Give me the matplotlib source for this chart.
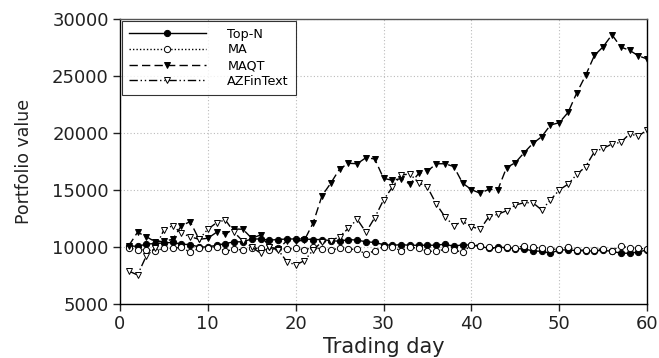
import matplotlib
matplotlib.use("Agg")
import matplotlib.pyplot as plt
import numpy as np

plt.rcParams['font.family'] = ['DejaVu Sans']

days = list(range(1, 61))

top_n = [10100, 10050, 10250, 10300, 10350, 10400, 10250, 10200, 10000, 10000,
         10150, 10300, 10450, 10450, 10700, 10700, 10600, 10650, 10700, 10700,
         10700, 10650, 10650, 10550, 10500, 10650, 10600, 10450, 10400, 10200,
         10150, 10200, 10150, 10150, 10150, 10150, 10250, 10050, 10200, 10150,
         10050, 9880, 9970, 9950, 9850, 9830, 9650, 9620, 9450, 9740,
         9740, 9680, 9650, 9650, 9700, 9620, 9450, 9450, 9560, 9740]

ma = [9940, 9740, 9740, 9650, 9880, 9880, 9970, 9530, 9880, 9940,
      10030, 9620, 9800, 9740, 9880, 9880, 9740, 9880, 9800, 9880,
      9740, 9970, 9800, 9740, 9880, 9800, 9800, 9350, 9680, 10030,
      9970, 9680, 9970, 9880, 9620, 9620, 9800, 9740, 9530, 10180,
      10120, 9970, 9800, 10000, 9880, 10120, 9970, 9880, 9800, 9800,
      9970, 9740, 9740, 9740, 9850, 9680, 10120, 9880, 9880, 9800]

maqt = [10100, 11290, 10900, 10460, 10500, 10670, 11870, 12220, 10670, 10760,
        11290, 11140, 11580, 11550, 10760, 11050, 10030, 9800, 10550, 10500,
        10600, 12130, 14500, 15600, 16840, 17340, 17300, 17830, 17720, 16020,
        15850, 16000, 15500, 16450, 16650, 17300, 17300, 17050, 15600, 15030,
        14710, 15060, 15000, 16960, 17390, 18270, 19090, 19670, 20700, 20900,
        21800, 23530, 25050, 26800, 27570, 28620, 27540, 27250, 26770, 26490]

azfintext = [7890, 7540, 9210, 9880, 11490, 11870, 11200, 10900, 10670, 11550,
             12130, 12370, 11290, 10500, 10000, 9450, 10030, 9740, 8710, 8420,
             8800, 9740, 10460, 10550, 10900, 11640, 12430, 11290, 12570, 14120,
             15240, 16310, 16400, 15640, 15240, 13770, 12630, 11870, 12250, 11780,
             11550, 12660, 12860, 13180, 13680, 13880, 13880, 13240, 14120, 15000,
             15510, 16370, 17040, 18360, 18650, 19030, 19180, 19910, 19730, 20260]

series = [
    ("Top-N", top_n, '-', 'o', 'black'),
    ("MA", ma, (0, (1, 1.5)), 'o', 'white'),
    ("MAQT", maqt, (0, (6, 3)), 'v', 'black'),
    ("AZFinText", azfintext, (0, (6, 2, 1, 2, 1, 2)), 'v', 'white'),
]

fig = plt.figure(figsize=(6.59, 3.58), dpi=100)
ax = fig.add_axes([0.182, 0.151, 0.800, 0.796])

for name, vals, ls, mk, fc in series:
    ax.plot(days, vals, linestyle=ls, color='black', linewidth=1.0,
            marker=mk, markersize=4.5, markerfacecolor=fc,
            markeredgecolor='black', markeredgewidth=0.7, label=name)

ax.set_xlim(0, 60)
ax.set_ylim(5000, 30000)
ax.set_xticks(range(0, 61, 10))
ax.set_yticks(range(5000, 30001, 5000))
ax.grid(True, color='#bbbbbb', linestyle=(0, (1, 2)), linewidth=0.8)
ax.tick_params(direction='out', length=5, width=1, labelsize=13, pad=3,
               colors='#222222')
for s in ax.spines.values():
    s.set_linewidth(1.0)
ax.spines['top'].set_color('#555555')

ax.set_xlabel("Trading day", fontsize=15, labelpad=3, color='#222222')
ax.set_ylabel("Portfolio value", fontsize=12.5, labelpad=14, color='#222222')

leg = ax.legend(loc='upper left', fontsize=9.2, handlelength=6.0, frameon=True,
                fancybox=False, edgecolor='black', borderaxespad=0.15,
                labelspacing=0.2, borderpad=0.55, handletextpad=1.7)
leg.get_frame().set_linewidth(0.8)

fig.savefig("out.png", dpi=100)
